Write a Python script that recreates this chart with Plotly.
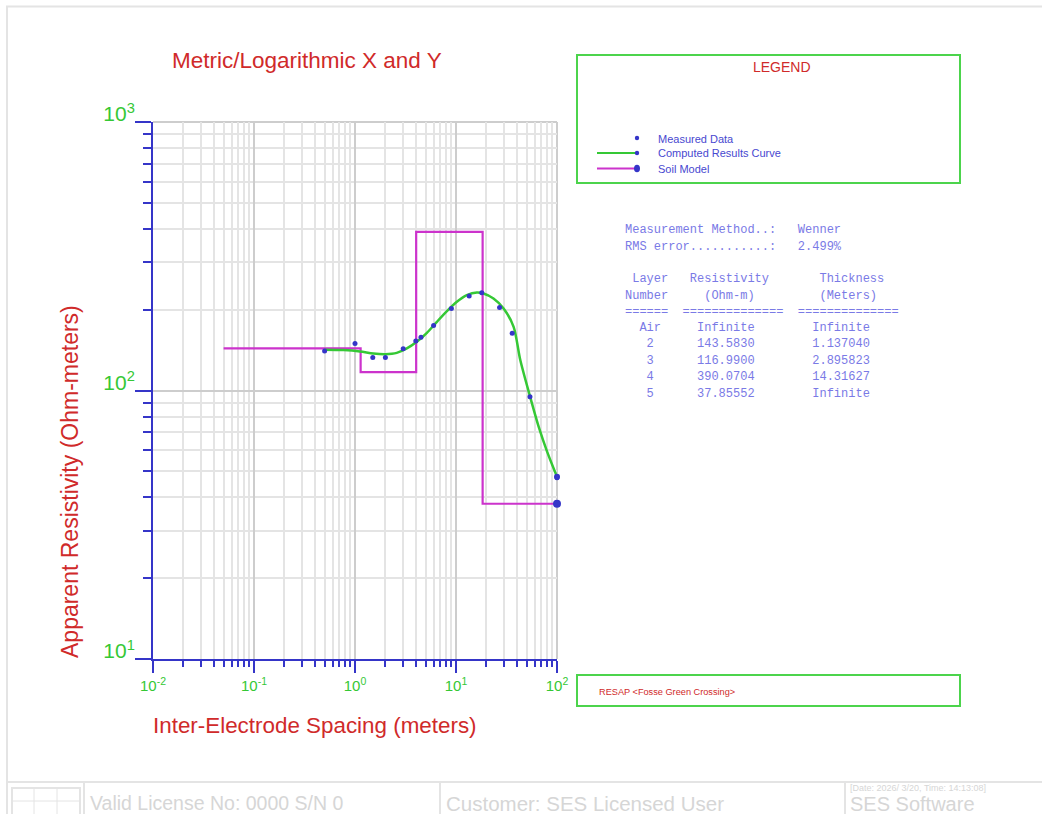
import plotly.graph_objects as go

# ---------------- data ----------------
spacing = [0.5, 1.0, 1.5, 2.0, 3.0, 4.0, 4.5, 6.0, 9.0, 13.5, 18.0, 27.0, 36.0, 54.0, 100.0]
measured = [140.2, 149.7, 132.8, 132.8, 142.9, 153.0, 157.8, 174.6, 202.0, 225.0, 231.0, 203.6, 163.5, 94.7, 47.3]

curve_x = [0.5, 0.77, 1.12, 1.52, 1.99, 2.59, 3.26, 4.09, 5.15, 6.47, 8.13, 10.2, 12.8,
           16.1, 18.7, 23.5, 29.6, 37.2, 43.3, 53.6, 65.8, 79.8, 100.0]
curve_y = [141.9, 141.4, 139.8, 137.4, 136.6, 138.1, 143.4, 151.8, 163.9, 180.2, 197.5, 213.9, 226.5,
           231.8, 229.8, 220.2, 202.1, 172.6, 129.8, 96.1, 73.3, 59.2, 47.7]

layer_res = [143.5830, 116.9900, 390.0704, 37.85552]
layer_thk = [1.137040, 2.895823, 14.31627]
model_start = 0.05
model_end = 100.0

x_tick_vals = [0.01, 0.1, 1, 10, 100]
x_tick_text = ["10<sup>-2</sup>", "10<sup>-1</sup>", "10<sup>0</sup>", "10<sup>1</sup>", "10<sup>2</sup>"]
y_tick_vals = [10, 100, 1000]
y_tick_text = ["10<sup>1</sup>", "10<sup>2</sup>", "10<sup>3</sup>"]

info_lines = [
    "Measurement Method..:   Wenner",
    "RMS error...........:   2.499%",
    " Layer   Resistivity       Thickness",
    "Number     (Ohm-m)         (Meters)",
    "======  ==============  ==============",
    "  Air     Infinite        Infinite",
    "   2      143.5830        1.137040",
    "   3      116.9900        2.895823",
    "   4      390.0704        14.31627",
    "   5      37.85552        Infinite",
]
info_y_px = [230, 247, 278.5, 295.5, 312, 327.5, 344, 360.5, 377, 393.5]

# ---------------- derived ----------------
bounds = [model_start]
acc = 0.0
for t in layer_thk:
    acc += t
    bounds.append(acc)
bounds.append(model_end)
model_x = bounds
model_y = layer_res + [layer_res[-1]]

minor_x = [m * 10 ** e for e in range(-2, 2) for m in range(2, 10)]
minor_y = [m * 10 ** e for e in range(1, 3) for m in range(2, 10)]

# ---------------- colours ----------------
BLUE = "#3535c8"
GREEN = "#35c835"
MAGENTA = "#cc33cc"
RED = "#d02a2a"
TXT_BLUE = "#4848d0"
INFO = "#7a7ae6"
FOOT = "#d6d6d6"
FRAME = "#e4e4e4"

W, H = 1042, 814
L, R, T, B = 153, 485, 122, 155
PW, PH = W - L - R, H - T - B


def px(x):
    return (x - L) / PW


def py(y):
    return (H - B - y) / PH


fig = go.Figure()

fig.add_trace(go.Scatter(
    x=model_x, y=model_y, mode="lines", line=dict(color=MAGENTA, width=2.2, shape="hv"),
    name="Soil Model", showlegend=False))
fig.add_trace(go.Scatter(
    x=curve_x, y=curve_y, mode="lines",
    line=dict(color=GREEN, width=2.5, shape="spline", smoothing=0.8),
    name="Computed Results Curve", showlegend=False))
fig.add_trace(go.Scatter(
    x=spacing, y=measured, mode="markers", marker=dict(color=BLUE, size=5), cliponaxis=False,
    name="Measured Data", showlegend=False))
# end markers of the curve and of the soil model
fig.add_trace(go.Scatter(
    x=[curve_x[-1]], y=[curve_y[-1]], mode="markers", marker=dict(color=BLUE, size=6, opacity=1),
    cliponaxis=False, showlegend=False, hoverinfo="skip"))
fig.add_trace(go.Scatter(
    x=[model_x[-1]], y=[model_y[-1]], mode="markers", marker=dict(color=BLUE, size=8, opacity=1),
    cliponaxis=False, showlegend=False, hoverinfo="skip"))

fig.update_xaxes(
    type="log", range=[-2, 2], showline=True, linecolor=BLUE, linewidth=2,
    tickmode="array", tickvals=x_tick_vals, ticktext=x_tick_text,
    ticks="outside", ticklen=12, tickwidth=2, tickcolor=BLUE,
    tickfont=dict(family="Arial, Liberation Sans", size=15, color=GREEN),
    showgrid=True, gridcolor="#cdcdcd", gridwidth=2, zeroline=False,
    minor=dict(tickmode="array", tickvals=minor_x, ticks="outside", ticklen=6, tickwidth=1.5,
               tickcolor=BLUE, showgrid=True, gridcolor="#e4e4e4", gridwidth=1.5),
)
fig.update_yaxes(
    type="log", range=[1, 3], showline=True, linecolor=BLUE, linewidth=2,
    tickmode="array", tickvals=y_tick_vals, ticktext=y_tick_text,
    ticks="outside", ticklen=16, tickwidth=2, tickcolor=BLUE,
    tickfont=dict(family="Arial, Liberation Sans", size=21, color=GREEN),
    ticklabelshift=-8, ticklabelstandoff=-4,
    showgrid=True, gridcolor="#cdcdcd", gridwidth=2, zeroline=False,
    minor=dict(tickmode="array", tickvals=minor_y, ticks="outside", ticklen=8, tickwidth=1.5,
               tickcolor=BLUE, showgrid=True, gridcolor="#e4e4e4", gridwidth=1.5),
)

shapes = []
# top and right plot borders (grey)
shapes.append(dict(type="line", xref="paper", yref="paper", x0=0, x1=1, y0=1, y1=1,
                   line=dict(color="#cdcdcd", width=2), layer="below"))
shapes.append(dict(type="line", xref="paper", yref="paper", x0=1, x1=1, y0=0, y1=1,
                   line=dict(color="#cdcdcd", width=2), layer="below"))
# outer frame
shapes.append(dict(type="rect", xref="paper", yref="paper", x0=px(7), x1=px(1060), y0=py(6.5), y1=py(840),
                   line=dict(color=FRAME, width=2)))
shapes.append(dict(type="line", xref="paper", yref="paper", x0=px(7), x1=px(1060), y0=py(782), y1=py(782),
                   line=dict(color=FRAME, width=2)))
for sx in [84, 440, 845]:
    shapes.append(dict(type="line", xref="paper", yref="paper", x0=px(sx), x1=px(sx), y0=py(782), y1=py(830),
                       line=dict(color=FRAME, width=2)))
# footer icon
shapes.append(dict(type="rect", xref="paper", yref="paper", x0=px(12), x1=px(80), y0=py(788), y1=py(818),
                   line=dict(color=FRAME, width=2)))
for sx in [34, 57]:
    shapes.append(dict(type="line", xref="paper", yref="paper", x0=px(sx), x1=px(sx), y0=py(788), y1=py(818),
                       line=dict(color=FRAME, width=1)))
shapes.append(dict(type="line", xref="paper", yref="paper", x0=px(12), x1=px(80), y0=py(801), y1=py(801),
                   line=dict(color=FRAME, width=1)))
# legend box and bottom box
shapes.append(dict(type="rect", xref="paper", yref="paper", x0=px(577), x1=px(960), y0=py(55), y1=py(183),
                   line=dict(color="#4cd44c", width=2)))
shapes.append(dict(type="rect", xref="paper", yref="paper", x0=px(577), x1=px(960), y0=py(675), y1=py(706),
                   line=dict(color="#4cd44c", width=2)))
# legend glyphs
shapes.append(dict(type="line", xref="paper", yref="paper", x0=px(597), x1=px(637), y0=py(153), y1=py(153),
                   line=dict(color=GREEN, width=2.2)))
shapes.append(dict(type="line", xref="paper", yref="paper", x0=px(597), x1=px(637), y0=py(168.5), y1=py(168.5),
                   line=dict(color=MAGENTA, width=2.2)))
for cy, rx, ry in [(138, 2.2, 2.2), (153, 2.2, 2.2), (168.5, 3, 3.8)]:
    shapes.append(dict(type="circle", xref="paper", yref="paper", xsizemode="pixel", ysizemode="pixel",
                       xanchor=px(637), yanchor=py(cy), x0=-rx, x1=rx, y0=-ry, y1=ry,
                       fillcolor=BLUE, line=dict(color=BLUE, width=0)))

ann = []


def add_text(text, x, y, size, color, family="Arial, Liberation Sans", xanchor="left", angle=0):
    ann.append(dict(text=text, x=px(x), y=py(y), xref="paper", yref="paper", showarrow=False,
                    xanchor=xanchor, yanchor="middle", textangle=angle,
                    font=dict(family=family, size=size, color=color)))


add_text("Metric/Logarithmic X and Y", 307, 60, 22.5, RED, xanchor="center")
add_text("Inter-Electrode Spacing (meters)", 315, 725, 22.4, RED, xanchor="center")
add_text("Apparent Resistivity (Ohm-meters)", 70, 482, 23, RED, xanchor="center", angle=-90)
add_text("LEGEND", 782, 67, 14, RED, xanchor="center")
add_text("Measured Data", 656, 138.5, 11, TXT_BLUE)
add_text("Computed Results Curve", 656, 153, 11, TXT_BLUE)
add_text("Soil Model", 656, 168.5, 11, TXT_BLUE)
add_text("RESAP &lt;Fosse Green Crossing&gt;", 597, 692, 9.2, RED)
for line, yy in zip(info_lines, info_y_px):
    add_text(line.replace(" ", "\u00a0"), 623, yy, 12, INFO, family="Liberation Mono, Courier New, monospace")
add_text("Valid License No: 0000 S/N 0", 88, 803, 19.5, FOOT)
add_text("Customer: SES Licensed User", 444, 803, 20.5, FOOT)
add_text("[Date: 2026/ 3/20, Time: 14:13:08]", 848, 788, 9, FOOT)
add_text("SES Software", 848, 804, 20, FOOT)

fig.update_layout(
    width=W, height=H, margin=dict(l=L, r=R, t=T, b=B, autoexpand=False),
    paper_bgcolor="white", plot_bgcolor="white", showlegend=False,
    shapes=shapes, annotations=ann,
)

fig.write_html("out.html", config={"displayModeBar": False},
               post_script="document.body.style.margin='0';document.body.style.overflow='hidden';")
